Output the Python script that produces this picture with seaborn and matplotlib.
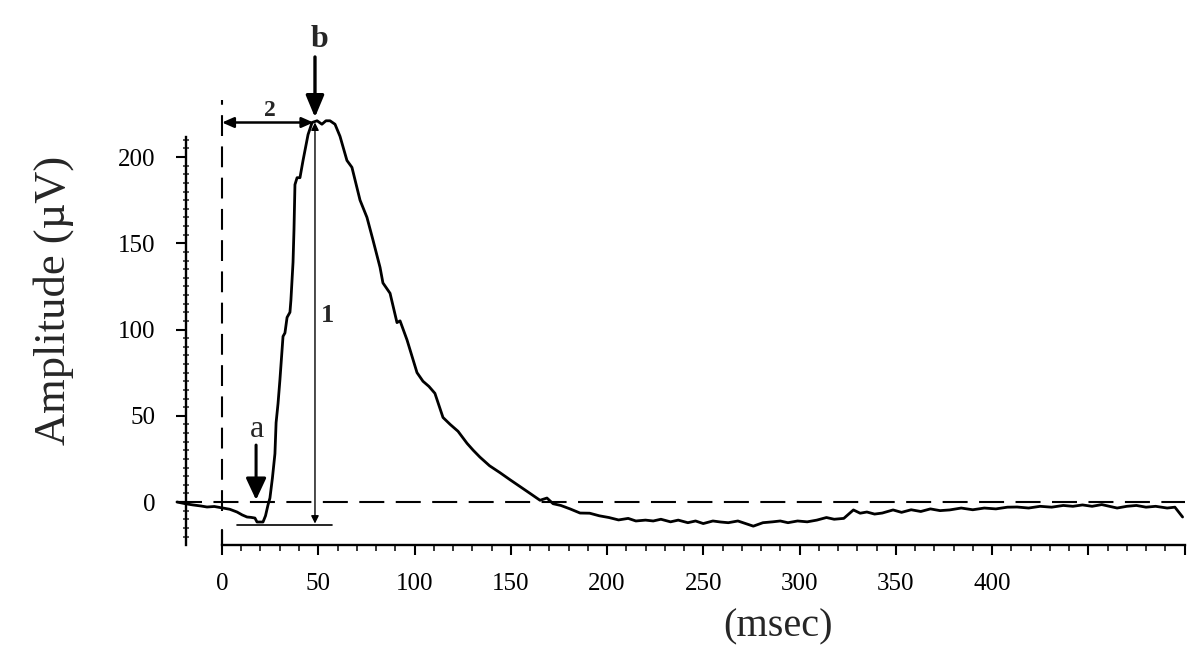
import numpy as np
import pandas as pd
import matplotlib
matplotlib.use("Agg")
import matplotlib.pyplot as plt
import seaborn as sns

# ---- data (time in ms, amplitude in µV) ----
time_ms = [-23.4, -19, -15.1, -11, -7.8, -4, 0.5, 4, 7.8, 10.5, 13, 15, 17.1, 18.2, 21.3,
           22.6, 23.9, 24.9, 26.2, 27.5, 28.1, 29.1, 30.1, 31.7, 32.7, 33.8, 35.3, 35.8,
           36.9, 37.4, 37.9, 39, 40.5, 42.1, 44.7, 46.8, 49.4, 51.9, 54, 56.1, 58.7, 61.3,
           64.9, 67.5, 71.7, 75.3, 78.4, 82.1, 83.6, 87.3, 90.9, 92.5, 96.1, 101.3, 104.4,
           107.5, 110.6, 114.8, 118.5, 122.6, 127.3, 130.5, 134, 139, 144.4, 149.5, 154.8,
           160, 165.2, 168.8, 172, 176, 180.8, 186, 191, 196, 201, 206, 211, 215, 220,
           224, 228, 233, 237, 242, 246, 250, 255, 259, 263, 268, 272, 276, 281, 286,
           290, 294, 299, 304, 309, 314, 318, 323, 328, 331.5, 335, 339, 343, 348.6, 353,
           358, 363, 368, 373, 378, 384, 390, 396, 402, 408, 413, 419, 425, 431, 437, 442,
           447, 452, 457, 461, 465, 470, 475, 480, 485, 491, 495, 499]
amplitude_uv = [0, -1, -1.7, -2.3, -2.9, -2.6, -3.5, -4.2, -5.8, -7.5, -8.7, -8.9, -9.3, -11.6, -11.6,
                -8, -1.7, 2.3, 14, 28, 46, 57, 71, 96, 98, 107, 110, 117,
                139, 158, 184, 188, 188, 198, 213, 220, 221, 219, 221, 221, 219, 212,
                198, 194, 175, 165, 152, 136, 127, 121, 104, 105, 94, 75, 70,
                67, 63, 49, 45, 41, 34, 30, 26, 21, 17, 13, 9,
                5, 1, 2.3, -1, -2, -4, -6.4, -6.5, -8, -9, -10.4, -9.5, -11, -10.5,
                -11, -10, -11.5, -10.5, -12, -11, -12.5, -11, -11.6, -12, -11, -12.5, -14, -12, -11.5,
                -11, -12, -11, -11.5, -10.5, -9, -10, -9.5, -4.6, -6.5, -5.8, -7, -6.4, -4.6, -6,
                -4.5, -5.5, -4, -5, -4.6, -3.5, -4.5, -3.5, -4, -3, -2.9, -3.5, -2.5, -3, -2, -2.5,
                -1.7, -2.5, -1.5, -2.5, -3.5, -2.5, -2, -3, -2.5, -3.5, -3, -8.7]

x_major = list(range(0, 501, 50))
x_labels = ["0", "50", "100", "150", "200", "250", "300", "350", "400", "", ""]
x_minor = list(range(0, 501, 10))
y_major = [0, 50, 100, 150, 200]
y_labels = ["0", "50", "100", "150", "200"]
y_minor = list(range(-20, 211, 5))

# reference / annotation geometry
baseline_span = [-23.4, 500]
stim_span = [-5, 233]
peak_time = 48.3
peak_amp = 220
trough_amp = -13.3

df = pd.DataFrame({"t": time_ms, "v": amplitude_uv})

sns.set_style("ticks")
plt.rcParams["font.family"] = ["Liberation Serif", "DejaVu Serif"]

fig = plt.figure(figsize=(11.96, 6.46), dpi=100)
ax = fig.add_axes([0.13733, 0.14280, 0.86112, 0.80108])
ax.set_xlim(-30, 505)
ax.set_ylim(-30, 270)

sns.lineplot(data=df, x="t", y="v", color="black", lw=2.0, estimator=None, sort=False, ax=ax)

# dashed baseline and stimulus line
ax.plot(baseline_span, [0, 0], color="black", lw=1.5, ls=(0, (12, 5.5)))
ax.plot([0, 0], stim_span, color="black", lw=1.5, ls=(0, (10, 5)))
ax.plot([0, 0], [-16, -25], color="black", lw=1.6)

# spines
for s in ["top", "right"]:
    ax.spines[s].set_visible(False)
ax.spines["left"].set_position(("data", -18.7))
ax.spines["left"].set_bounds(-25, 211.6)
ax.spines["bottom"].set_position(("data", -25))
ax.spines["bottom"].set_bounds(0, 500)
for s in ["left", "bottom"]:
    ax.spines[s].set_linewidth(1.7)
    ax.spines[s].set_color("black")

ax.set_xticks(x_major)
ax.set_xticklabels(x_labels)
ax.set_xticks(x_minor, minor=True)
ax.set_yticks(y_major)
ax.set_yticklabels(y_labels)
ax.set_yticks(y_minor, minor=True)
ax.tick_params(axis="x", which="major", direction="out", length=7, width=1.5,
               pad=13, labelsize=18, colors="black")
ax.tick_params(axis="x", which="minor", direction="out", length=4.5, width=1.3)
ax.tick_params(axis="y", which="major", direction="out", length=7, width=1.5,
               pad=15, labelsize=18, colors="black")
ax.tick_params(axis="y", which="minor", direction="inout", length=4, width=1.1)

ax.set_xlabel("(msec)", fontsize=29, ha="center", va="top")
ax.xaxis.set_label_coords(0.596, -0.1048)
ax.set_ylabel("Amplitude (µV)", fontsize=32, ha="center", va="center")
ax.yaxis.set_label_coords(-0.108, 0.4903)

# annotations
ax.annotate("", xy=(peak_time, 223), xytext=(peak_time, 258),
            arrowprops=dict(arrowstyle="-|>,head_length=0.6,head_width=0.25", lw=2.4,
                            color="black", mutation_scale=22, shrinkA=0, shrinkB=0),
            annotation_clip=False)
ax.text(50.9, 268, "b", fontsize=23, fontweight="bold", ha="center", va="center")

ax.annotate("", xy=(17.7, 1.2), xytext=(17.7, 33),
            arrowprops=dict(arrowstyle="-|>,head_length=0.6,head_width=0.28", lw=2.2,
                            color="black", mutation_scale=22, shrinkA=0, shrinkB=0))
ax.text(18.2, 42, "a", fontsize=23, ha="center", va="center")

ax.annotate("", xy=(0, peak_amp), xytext=(peak_time - 0.8, peak_amp),
            arrowprops=dict(arrowstyle="<|-|>,head_length=0.5,head_width=0.22", lw=1.8,
                            color="black", mutation_scale=14, shrinkA=0, shrinkB=0))
ax.text(25, 227, "2", fontsize=17, fontweight="bold", ha="center", va="center")

ax.annotate("", xy=(peak_time, peak_amp), xytext=(peak_time, -12.5),
            arrowprops=dict(arrowstyle="<|-|>,head_length=0.5,head_width=0.25", lw=1.0,
                            color="black", mutation_scale=9, shrinkA=0, shrinkB=0))
ax.text(55, 108, "1", fontsize=19, fontweight="bold", ha="center", va="center")

ax.plot([7.8, 57], [trough_amp, trough_amp], color="black", lw=1.2)

fig.savefig("out.png", dpi=100, facecolor="white")
